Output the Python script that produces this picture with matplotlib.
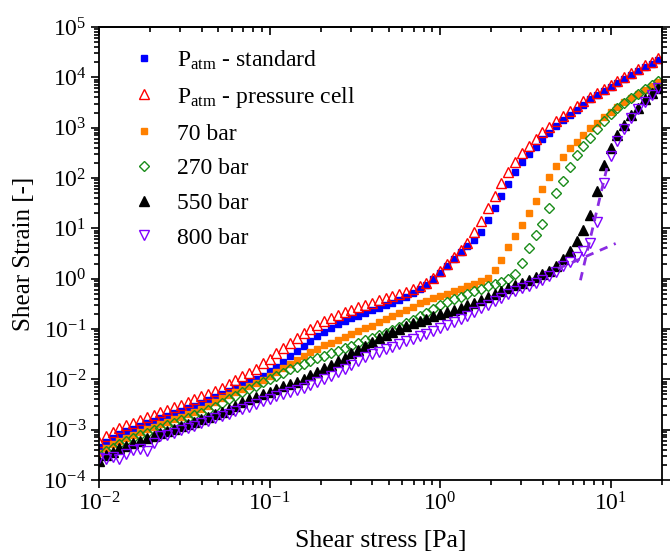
import matplotlib
matplotlib.use('Agg')
import matplotlib.pyplot as plt
from matplotlib.ticker import LogLocator, NullFormatter

plt.rcParams['font.family'] = 'Liberation Serif'
plt.rcParams['mathtext.fontset'] = 'custom'
plt.rcParams['mathtext.rm'] = 'Liberation Serif'
plt.rcParams['mathtext.it'] = 'Liberation Serif:italic'
plt.rcParams['mathtext.bf'] = 'Liberation Serif:bold'

# shear stress sweep [Pa]
stress = [0.01, 0.01096, 0.01202, 0.01318, 0.01445, 0.01585, 0.01738, 0.01905, 0.02089, 0.02291,
          0.02512, 0.02754, 0.0302, 0.03311, 0.03631, 0.03981, 0.04365, 0.04786, 0.05248, 0.05754,
          0.0631, 0.06918, 0.07586, 0.08318, 0.0912,
          0.1, 0.1096, 0.1202, 0.1318, 0.1445, 0.1585, 0.1738, 0.1905, 0.2089, 0.2291,
          0.2512, 0.2754, 0.302, 0.3311, 0.3631, 0.3981, 0.4365, 0.4786, 0.5248, 0.5754,
          0.631, 0.6918, 0.7586, 0.8318, 0.912,
          1.0, 1.096, 1.202, 1.318, 1.445, 1.585, 1.738, 1.905, 2.089, 2.291,
          2.512, 2.754, 3.02, 3.311, 3.631, 3.981, 4.365, 4.786, 5.248, 5.754,
          6.31, 6.918, 7.586, 8.318, 9.12,
          10.0, 10.96, 12.02, 13.18, 14.45, 15.85, 17.38, 19.05]

# shear strain [-]
strain_std = [4.57e-4, 5.75e-4, 6.92e-4, 8.13e-4, 9.33e-4, 1.05e-3, 1.20e-3, 1.35e-3, 1.51e-3, 1.70e-3,
              1.91e-3, 2.14e-3, 2.40e-3, 2.69e-3, 3.02e-3, 3.39e-3, 3.80e-3, 4.37e-3, 5.01e-3, 5.75e-3,
              6.61e-3, 7.59e-3, 8.71e-3, 1.00e-2, 1.17e-2,
              1.45e-2, 1.78e-2, 2.19e-2, 2.88e-2, 3.72e-2, 4.68e-2, 5.89e-2, 7.41e-2, 8.91e-2, 0.105,
              0.126, 0.145, 0.162, 0.182, 0.204, 0.234, 0.263, 0.295, 0.331, 0.372,
              0.427, 0.513, 0.617, 0.759, 0.977,
              1.32, 1.82, 2.51, 3.39, 4.37, 5.75, 8.51, 14.5, 25.1, 43.7,
              77.6, 129, 204, 295, 417, 589, 794, 1072, 1413, 1820,
              2290, 2880, 3630, 4370, 5250,
              6310, 7760, 9330, 11220, 13490, 15850, 18620, 21880]

strain_cell = [5.75e-4, 7.59e-4, 9.12e-4, 1.07e-3, 1.23e-3, 1.38e-3, 1.58e-3, 1.78e-3, 2.00e-3, 2.24e-3,
               2.51e-3, 2.82e-3, 3.16e-3, 3.55e-3, 3.98e-3, 4.57e-3, 5.13e-3, 5.89e-3, 6.76e-3, 8.13e-3,
               9.55e-3, 1.15e-2, 1.35e-2, 1.62e-2, 2.09e-2,
               2.57e-2, 3.31e-2, 4.17e-2, 5.25e-2, 6.61e-2, 8.32e-2, 0.102, 0.120, 0.141, 0.162,
               0.191, 0.214, 0.240, 0.269, 0.295, 0.331, 0.372, 0.417, 0.457, 0.501,
               0.550, 0.631, 0.724, 0.832, 1.05,
               1.45, 2.00, 2.75, 3.72, 5.13, 8.32, 13.8, 25.7, 43.7, 79.4,
               132, 209, 309, 437, 603, 813, 1047, 1349, 1738, 2188,
               2692, 3311, 4074, 4898, 5888,
               7079, 8511, 10230, 12300, 14790, 17380, 20420, 23990]

strain_70 = [3.47e-4, 4.37e-4, 5.13e-4, 6.03e-4, 6.92e-4, 7.94e-4, 9.12e-4, 1.02e-3, 1.15e-3, 1.29e-3,
             1.45e-3, 1.62e-3, 1.82e-3, 2.04e-3, 2.29e-3, 2.63e-3, 3.02e-3, 3.47e-3, 4.17e-3, 4.90e-3,
             5.62e-3, 6.46e-3, 7.41e-3, 8.51e-3, 9.77e-3,
             1.15e-2, 1.38e-2, 1.66e-2, 2.00e-2, 2.45e-2, 2.95e-2, 3.47e-2, 4.07e-2, 4.79e-2, 5.37e-2,
             6.03e-2, 6.92e-2, 7.94e-2, 9.12e-2, 0.105, 0.117, 0.135, 0.155, 0.178, 0.204,
             0.234, 0.275, 0.324, 0.363, 0.407,
             0.457, 0.501, 0.562, 0.631, 0.708, 0.794, 0.891, 1.05, 1.48, 2.40,
             4.17, 7.08, 11.5, 20.0, 34.7, 60.3, 105, 174, 257, 389,
             525, 724, 977, 1259, 1660,
             2089, 2570, 3162, 3802, 4571, 5623, 6607, 7943]

strain_270 = [3.02e-4, 3.72e-4, 4.37e-4, 5.13e-4, 5.89e-4, 6.76e-4, 7.76e-4, 8.71e-4, 9.77e-4, 1.10e-3,
              1.23e-3, 1.38e-3, 1.55e-3, 1.74e-3, 1.95e-3, 2.19e-3, 2.51e-3, 2.88e-3, 3.39e-3, 3.98e-3,
              4.68e-3, 5.50e-3, 6.31e-3, 7.41e-3, 8.71e-3,
              1.02e-2, 1.17e-2, 1.35e-2, 1.58e-2, 1.78e-2, 2.04e-2, 2.29e-2, 2.63e-2, 2.95e-2, 3.31e-2,
              3.72e-2, 4.17e-2, 4.68e-2, 5.25e-2, 6.03e-2, 6.76e-2, 7.59e-2, 8.51e-2, 9.55e-2, 0.110,
              0.129, 0.151, 0.178, 0.209, 0.245,
              0.295, 0.339, 0.389, 0.437, 0.501, 0.562, 0.631, 0.708, 0.776, 0.871,
              0.977, 1.26, 2.09, 3.98, 7.24, 12.0, 25.1, 51.3, 89.1, 166,
              288, 427, 631, 933, 1349,
              1905, 2455, 3090, 3802, 4677, 5754, 6918, 8318]

strain_550 = [2.40e-4, 3.16e-4, 3.63e-4, 4.27e-4, 4.79e-4, 5.37e-4, 6.03e-4, 6.76e-4, 7.59e-4, 8.51e-4,
              9.33e-4, 1.05e-3, 1.17e-3, 1.32e-3, 1.45e-3, 1.62e-3, 1.82e-3, 2.04e-3, 2.29e-3, 2.63e-3,
              3.02e-3, 3.47e-3, 3.98e-3, 4.47e-3, 5.01e-3,
              5.62e-3, 6.31e-3, 7.24e-3, 8.13e-3, 8.91e-3, 1.02e-2, 1.20e-2, 1.41e-2, 1.66e-2, 1.95e-2,
              2.29e-2, 2.69e-2, 3.31e-2, 3.89e-2, 4.57e-2, 5.50e-2, 6.61e-2, 7.76e-2, 8.91e-2, 0.102,
              0.115, 0.129, 0.145, 0.158, 0.178,
              0.200, 0.219, 0.240, 0.263, 0.295, 0.331, 0.380, 0.427, 0.490, 0.562,
              0.646, 0.741, 0.832, 0.955, 1.07, 1.23, 1.45, 1.82, 2.51, 3.55,
              5.62, 9.12, 18.6, 56.2, 178,
              398, 724, 1148, 1820, 2512, 3631, 4786, 6166]

strain_800 = [2.69e-4, 2.57e-4, 2.88e-4, 2.57e-4, 3.31e-4, 3.98e-4, 4.07e-4, 3.80e-4, 5.50e-4, 7.41e-4,
              7.76e-4, 8.71e-4, 9.77e-4, 1.07e-3, 1.17e-3, 1.35e-3, 1.51e-3, 1.70e-3, 1.86e-3, 2.09e-3,
              2.34e-3, 2.63e-3, 2.88e-3, 3.24e-3, 3.63e-3,
              4.07e-3, 4.57e-3, 5.13e-3, 5.62e-3, 6.17e-3, 6.76e-3, 7.76e-3, 8.91e-3, 1.02e-2, 1.15e-2,
              1.38e-2, 1.62e-2, 1.91e-2, 2.29e-2, 2.75e-2, 3.16e-2, 3.55e-2, 3.98e-2, 4.47e-2, 5.13e-2,
              5.75e-2, 6.46e-2, 7.24e-2, 8.13e-2, 9.12e-2,
              0.105, 0.120, 0.138, 0.155, 0.182, 0.219, 0.263, 0.302, 0.355, 0.407,
              0.490, 0.562, 0.646, 0.724, 0.832, 0.933, 1.12, 1.38, 1.78, 2.14,
              2.75, 3.55, 5.01, 13.5, 79.4,
              269, 550, 955, 1585, 2399, 3236, 4467, 6026]

# dashed fit lines for 800 bar (end points)
fit_low_x = [4.9, 10.7]
fit_low_y = [1.58, 5.0]
fit_steep_x = [6.65, 9.66]
fit_steep_y = [0.93, 200]

labels = [r'P$_{\mathrm{atm}}$ - standard', r'P$_{\mathrm{atm}}$ - pressure cell',
          '70 bar', '270 bar', '550 bar', '800 bar']

fig = plt.figure(figsize=(6.72, 5.53), dpi=100)
ax = fig.add_axes([0.1473, 0.132, 0.8378, 0.8192])

ax.plot(stress, strain_std, 's', color='#0000ff', ms=5, mec='#0000ff', label=labels[0])
ax.plot(stress, strain_cell, '^', color='#ff0000', ms=6.5, mfc='none', mew=1, label=labels[1])
ax.plot(stress, strain_70, 's', color='#ff8000', ms=5, label=labels[2])
ax.plot(stress, strain_270, 'D', color='#1a8c1a', ms=5, mfc='none', mew=1, label=labels[3])
ax.plot(stress, strain_550, '^', color='black', ms=6.5, label=labels[4])
ax.plot(stress, strain_800, 'v', color='#8000ff', ms=6.5, mfc='none', mew=1, label=labels[5])

ax.plot(fit_low_x, fit_low_y, '--', color='#8a2be2', lw=2, dashes=(3, 2.5))
ax.plot(fit_steep_x, fit_steep_y, '--', color='#8a2be2', lw=2, dashes=(3, 2.5))

ax.set_xscale('log')
ax.set_yscale('log')
ax.set_xlim(0.01, 20)
ax.set_ylim(1e-4, 1e5)

for axis in [ax.xaxis, ax.yaxis]:
    axis.set_major_locator(LogLocator(base=10, numticks=20))
    axis.set_minor_locator(LogLocator(base=10, subs=range(2, 10), numticks=20))
    axis.set_minor_formatter(NullFormatter())

ax.tick_params(which='both', direction='out', width=1.2, labelsize=17, right=True)
ax.tick_params(which='major', length=6, pad=3)
ax.tick_params(which='minor', length=3.5)

top = ax.secondary_xaxis('top')
top.xaxis.set_major_locator(LogLocator(base=10, numticks=20))
top.xaxis.set_minor_locator(LogLocator(base=10, subs=range(2, 10), numticks=20))
top.xaxis.set_major_formatter(NullFormatter())
top.xaxis.set_minor_formatter(NullFormatter())
top.tick_params(which='both', direction='in', width=1.2)
top.tick_params(which='major', length=6)
top.tick_params(which='minor', length=3.5)

for s in ax.spines.values():
    s.set_linewidth(1.3)
top.spines['top'].set_linewidth(1.3)

ax.set_xlabel('Shear stress [Pa]', fontsize=18.5, labelpad=10)
ax.set_ylabel('Shear Strain [-]', fontsize=18, labelpad=6)

ax.legend(loc='upper left', bbox_to_anchor=(0.022, 1.0), frameon=False, fontsize=17,
          numpoints=1, handlelength=1.0, handletextpad=0.9, labelspacing=0.56)

fig.savefig('out.png', dpi=100)
